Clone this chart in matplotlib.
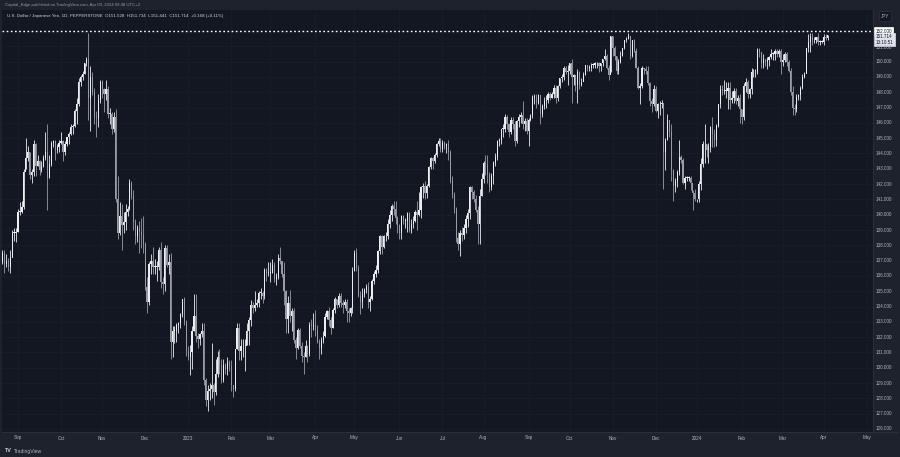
import matplotlib.pyplot as plt
import numpy as np
import pandas as pd

# USD/JPY daily bars, 19 Aug 2022 -> 03 Apr 2024 (one value per weekday)
first_open = 135.9
closes = [
    # Aug 2022
    136.9, 137.5, 136.8, 137.0, 136.6, 137.2, 138.8, 138.8, 138.9,
    # Sep
    140.2, 140.2, 140.5, 142.8, 143.7, 144.1, 142.6, 142.8, 144.6, 143.2, 143.5,
    142.9, 143.2, 143.7, 144.1, 142.4, 143.3, 144.7, 144.8, 144.2, 144.4, 144.7,
    # Oct
    144.8, 144.1, 144.6, 145.1, 145.3, 145.7, 145.8, 146.8, 147.2, 148.7, 149.0,
    149.2, 149.9, 150.2, 147.6, 149.0, 148.0, 146.4, 146.3, 147.5, 148.7,
    # Nov
    148.2, 147.9, 148.2, 146.6, 146.6, 145.6, 146.4, 141.0, 138.8, 139.9, 139.3,
    139.5, 140.2, 140.4, 142.1, 141.2, 139.5, 138.6, 139.1, 138.9, 138.7, 138.1,
    # Dec
    135.3, 134.3, 136.8, 137.0, 136.6, 136.6, 136.6, 137.7, 135.6, 135.5, 137.8,
    136.7, 136.9, 131.7, 132.4, 132.4, 132.8, 132.9, 133.5, 134.5, 133.0, 131.1,
    # Jan 2023
    130.7, 131.0, 132.4, 133.4, 132.1, 131.9, 132.2, 132.4, 129.2, 127.9, 128.5,
    128.6, 128.9, 128.4, 129.6, 130.7, 130.2, 129.2, 130.2, 129.9, 130.4, 130.1,
    # Feb
    128.9, 128.6, 131.2, 132.6, 131.1, 131.4, 131.4, 131.4, 132.4, 133.1, 134.1,
    133.9, 134.1, 134.2, 134.9, 134.9, 134.7, 136.4, 136.2, 136.2,
    # Mar
    136.2, 136.7, 135.8, 135.9, 137.2, 137.0, 136.1, 135.0, 133.2, 134.2, 133.4,
    133.7, 131.8, 131.3, 132.5, 131.4, 130.8, 130.7, 131.4, 130.9, 132.8, 132.7, 132.8,
    # Apr
    132.5, 131.7, 131.3, 131.8, 132.1, 133.3, 133.7, 133.1, 132.6, 133.8, 134.5,
    134.1, 134.7, 134.2, 134.1, 134.3, 133.7, 133.6, 133.9, 136.3,
    # May
    137.5, 136.5, 134.7, 134.3, 134.8, 135.1, 135.3, 134.3, 134.5, 135.7, 136.1,
    136.4, 137.6, 138.6, 137.9, 138.6, 138.6, 139.4, 140.0, 140.6, 140.4, 139.8, 139.3,
    # Jun
    138.8, 139.9, 139.6, 139.6, 140.1, 139.0, 139.4, 139.6, 140.2, 140.0, 140.3,
    141.8, 141.9, 141.4, 141.9, 143.1, 143.7, 143.5, 143.9, 144.6, 144.8, 144.3,
    # Jul
    144.7, 144.5, 144.6, 144.1, 142.2, 141.3, 140.4, 138.5, 138.1, 138.8, 138.7,
    139.1, 139.7, 140.1, 141.8, 141.5, 141.0, 140.3, 139.4, 141.2, 142.3,
    # Aug
    143.4, 143.3, 142.6, 141.8, 142.5, 143.4, 143.8, 144.8, 144.9, 145.6, 145.6,
    146.4, 145.9, 145.4, 146.2, 145.9, 144.8, 146.1, 146.4, 146.5, 145.9, 146.1, 145.5,
    # Sep
    146.2, 146.5, 147.7, 147.7, 147.3, 147.8, 146.6, 147.1, 147.4, 147.5, 147.9,
    147.6, 147.9, 148.3, 147.6, 148.4, 148.9, 149.0, 149.6, 149.3, 149.4,
    # Oct
    149.9, 149.0, 149.1, 148.5, 149.3, 148.5, 148.7, 149.1, 149.8, 149.6, 149.6,
    149.8, 149.8, 149.9, 149.9, 149.7, 149.9, 150.2, 150.4, 149.6, 149.1, 151.7,
    # Nov
    150.9, 150.4, 149.4, 150.0, 150.4, 150.9, 151.4, 151.5, 151.7, 150.4, 151.4,
    150.7, 149.6, 148.3, 148.4, 149.6, 149.5, 149.4, 148.6, 147.4, 147.2, 148.2,
    # Dec
    146.8, 147.2, 147.2, 147.3, 144.1, 144.9, 146.2, 145.4, 142.9, 141.9, 142.2,
    142.8, 143.8, 143.6, 142.1, 142.4, 142.4, 142.4, 142.1, 141.4, 141.0,
    # Jan 2024
    141.0, 142.0, 143.3, 144.6, 144.6, 144.2, 144.4, 145.7, 145.3, 144.9, 145.8,
    147.2, 148.2, 148.1, 148.1, 148.1, 148.3, 147.5, 147.6, 148.1, 147.4, 147.6, 146.9,
    # Feb
    146.4, 148.4, 148.7, 147.9, 148.2, 149.3, 149.3, 149.3, 150.8, 150.6, 149.9,
    150.2, 150.0, 150.1, 150.3, 150.5, 150.5, 150.7, 150.5, 150.7, 150.0,
    # Mar
    150.1, 150.5, 150.0, 149.4, 148.0, 147.0, 146.9, 147.7, 147.8, 148.3, 149.0,
    149.2, 150.9, 151.3, 151.6, 151.4, 151.4, 151.6, 151.3, 151.3, 151.3,
    # Apr
    151.6, 151.528, 151.714,
]
highs = [
    137.0, 137.7, 137.7, 137.4, 137.2, 137.7, 139.0, 139.1, 139.1,
    140.4, 140.8, 140.9, 143.0, 145.0, 144.5, 144.1, 143.0, 144.9, 144.7, 143.9,
    143.6, 143.5, 143.9, 145.4, 145.9, 143.9, 144.8, 144.9, 144.9, 144.6, 144.9,
    145.4, 144.9, 144.8, 145.1, 145.4, 145.9, 145.9, 146.9, 147.6, 148.9, 149.1,
    149.4, 149.9, 150.3, 151.9, 149.7, 149.3, 148.3, 146.8, 147.9, 148.8,
    148.8, 148.3, 148.8, 148.4, 147.0, 146.7, 146.7, 146.9, 142.5, 140.8, 140.7,
    140.2, 140.7, 140.6, 142.3, 142.2, 141.6, 139.7, 139.3, 139.6, 139.8, 139.9,
    138.2, 135.9, 136.9, 137.4, 137.9, 137.1, 137.0, 137.9, 138.2, 135.9, 138.0,
    138.0, 137.4, 137.5, 132.7, 132.7, 132.9, 133.0, 133.6, 134.5, 134.6, 133.1,
    131.4, 131.5, 132.7, 134.8, 134.8, 132.3, 132.3, 132.9, 132.9, 129.3, 128.9,
    129.0, 131.6, 129.0, 130.6, 131.1, 131.2, 130.6, 130.6, 130.3, 130.7, 130.5,
    130.5, 128.9, 131.2, 132.9, 132.9, 131.9, 131.9, 131.9, 132.9, 133.3, 134.4,
    134.3, 135.0, 134.5, 135.0, 135.2, 135.0, 136.5, 136.5, 136.9,
    136.9, 137.1, 136.9, 136.2, 137.4, 137.9, 136.9, 136.9, 135.1, 134.7, 135.1,
    133.9, 133.9, 132.0, 132.6, 132.6, 131.7, 131.0, 131.8, 131.5, 133.0, 133.2, 133.6,
    133.8, 132.8, 131.9, 132.0, 132.4, 133.6, 133.8, 134.0, 133.3, 133.9, 134.6,
    134.5, 134.9, 134.9, 134.4, 134.5, 134.5, 133.9, 134.0, 136.6,
    137.7, 137.8, 136.7, 135.0, 135.2, 135.2, 135.5, 135.6, 134.7, 135.8, 136.3,
    136.7, 137.7, 138.7, 138.7, 138.7, 138.9, 139.7, 140.3, 140.7, 140.9, 140.9, 139.9,
    139.4, 140.0, 140.0, 139.8, 140.2, 140.2, 139.7, 139.9, 140.3, 140.9, 141.5,
    141.9, 142.1, 142.2, 142.0, 143.2, 143.8, 143.8, 144.0, 144.7, 145.0, 145.0,
    144.9, 144.8, 144.7, 144.9, 144.2, 142.5, 141.5, 140.5, 138.9, 139.0, 139.2,
    139.4, 140.0, 140.4, 141.9, 141.9, 141.6, 141.3, 140.6, 141.7, 142.7,
    143.5, 143.9, 143.9, 142.8, 142.7, 143.5, 144.0, 144.9, 145.0, 145.6, 145.9,
    146.6, 146.5, 146.0, 146.4, 146.4, 146.1, 146.2, 146.6, 146.7, 147.4, 146.3, 146.3,
    146.3, 146.6, 147.8, 147.9, 147.9, 147.9, 147.6, 147.2, 147.7, 147.8, 148.0,
    148.0, 148.0, 148.5, 148.5, 148.5, 148.9, 149.2, 149.7, 149.7, 149.8,
    149.9, 150.2, 149.2, 149.1, 149.5, 149.4, 148.9, 149.3, 149.8, 149.8, 149.8,
    149.9, 149.9, 150.0, 150.0, 150.0, 149.9, 150.2, 150.8, 150.5, 149.8, 151.7,
    151.7, 151.0, 150.4, 150.2, 150.7, 150.9, 151.4, 151.6, 151.9, 151.7, 151.4,
    151.5, 150.9, 149.7, 148.6, 149.7, 149.6, 149.7, 149.7, 148.7, 147.6, 148.5,
    148.4, 147.3, 147.4, 147.5, 147.3, 145.0, 146.6, 146.2, 145.9, 143.0, 142.4,
    142.9, 144.9, 143.9, 143.7, 142.5, 142.5, 142.5, 142.5, 141.6, 141.7,
    141.0, 142.2, 143.7, 144.8, 145.9, 144.6, 144.7, 145.8, 146.4, 145.6, 145.9,
    147.2, 148.5, 148.5, 148.8, 148.7, 148.7, 148.7, 148.1, 148.3, 148.3, 147.8, 147.9,
    146.9, 148.6, 148.9, 148.8, 148.3, 149.6, 149.5, 149.5, 150.9, 150.9, 150.6,
    150.5, 150.2, 150.3, 150.4, 150.8, 150.6, 150.8, 150.8, 150.8, 150.8,
    150.5, 150.6, 150.6, 150.1, 149.6, 148.4, 147.2, 147.9, 147.9, 148.4, 149.2,
    149.3, 150.9, 151.8, 151.9, 151.9, 151.6, 151.6, 151.9, 151.4, 151.4,
    151.8, 151.8, 151.734,
]
lows = [
    135.8, 136.8, 136.2, 136.6, 136.3, 136.2, 137.7, 138.3, 138.2,
    138.9, 140.0, 140.1, 140.4, 143.0, 143.5, 142.3, 142.1, 142.5, 142.5, 143.2,
    142.6, 142.8, 143.1, 143.6, 140.3, 142.4, 143.2, 144.4, 143.6, 144.0, 144.1,
    144.6, 143.5, 143.9, 144.5, 144.6, 145.2, 145.3, 145.7, 145.9, 147.1, 148.4,
    148.8, 149.2, 149.7, 146.2, 145.5, 147.8, 145.9, 145.1, 145.7, 147.3,
    147.6, 146.7, 147.5, 146.3, 145.9, 145.3, 145.4, 140.8, 138.4, 138.7, 137.7,
    138.8, 139.0, 139.9, 140.3, 141.0, 139.0, 138.1, 138.2, 137.5, 137.8, 137.5,
    135.1, 133.6, 134.1, 136.1, 136.1, 136.1, 135.7, 136.4, 135.2, 134.8, 135.0,
    136.6, 136.1, 130.6, 130.7, 131.6, 131.7, 132.3, 132.6, 133.3, 132.8, 130.8,
    130.5, 129.5, 129.9, 132.4, 131.7, 131.3, 131.5, 132.0, 128.9, 127.5, 127.2,
    127.9, 128.0, 127.6, 128.2, 129.4, 129.6, 129.0, 129.1, 129.6, 129.5, 129.8,
    128.5, 128.1, 128.5, 131.2, 130.5, 130.5, 130.7, 129.8, 131.5, 131.5, 132.7,
    133.6, 133.7, 134.0, 134.0, 134.5, 134.2, 134.5, 135.7, 136.0,
    135.6, 136.2, 135.6, 135.4, 135.8, 136.8, 135.9, 134.1, 132.3, 132.3, 133.0,
    132.4, 131.6, 130.6, 131.2, 131.3, 130.4, 129.6, 130.7, 130.4, 130.8, 132.0, 132.5,
    132.1, 131.6, 130.6, 130.9, 131.6, 132.0, 133.2, 132.7, 132.2, 132.6, 133.6,
    133.9, 134.0, 134.0, 133.6, 133.9, 133.0, 133.0, 133.4, 133.6,
    136.3, 136.3, 134.6, 133.5, 133.9, 134.6, 134.9, 133.9, 133.7, 134.4, 135.5,
    135.9, 136.2, 137.4, 137.4, 137.8, 138.3, 138.4, 139.1, 139.6, 140.0, 139.4, 138.8,
    138.4, 138.4, 139.4, 139.1, 138.9, 138.9, 138.8, 139.1, 139.5, 139.0, 139.9,
    139.8, 141.1, 141.0, 141.1, 141.8, 143.0, 143.0, 143.4, 143.8, 144.5, 144.1,
    144.1, 144.3, 144.0, 143.6, 142.1, 141.1, 140.1, 138.2, 137.7, 137.3, 138.3,
    138.4, 138.8, 139.2, 139.7, 141.0, 140.8, 140.2, 138.1, 138.1, 141.2,
    142.1, 142.6, 142.1, 141.5, 141.6, 142.0, 143.2, 143.6, 144.5, 144.6, 145.1,
    145.4, 145.6, 145.1, 145.3, 145.6, 144.5, 144.7, 145.7, 146.0, 145.6, 145.5, 145.3,
    144.5, 146.1, 146.3, 147.2, 147.0, 147.2, 145.9, 146.4, 146.9, 147.0, 147.3,
    147.5, 147.6, 147.6, 147.3, 147.4, 148.3, 148.7, 148.8, 149.2, 148.5,
    149.2, 147.3, 148.5, 148.1, 147.3, 148.2, 148.4, 148.8, 149.1, 149.4, 149.4,
    149.4, 149.6, 149.6, 149.6, 149.3, 149.4, 149.7, 150.1, 149.5, 148.8, 149.3,
    150.4, 150.1, 149.2, 149.2, 149.9, 150.4, 150.8, 151.3, 151.5, 150.2, 150.3,
    150.6, 149.6, 148.2, 147.2, 148.3, 149.2, 149.2, 148.5, 147.1, 146.7, 147.1,
    146.7, 146.3, 146.5, 147.0, 141.7, 142.9, 144.9, 145.1, 142.2, 140.9, 141.5,
    141.8, 142.6, 143.4, 142.0, 141.7, 142.2, 142.2, 141.6, 140.3, 140.9,
    140.8, 140.8, 141.6, 143.1, 143.4, 143.8, 143.4, 144.1, 144.4, 144.4, 144.5,
    145.7, 147.0, 147.8, 147.9, 147.6, 146.9, 146.9, 147.3, 147.3, 147.2, 147.1, 146.0,
    145.9, 146.2, 148.0, 147.6, 147.6, 147.9, 149.0, 149.0, 149.2, 150.3, 149.6,
    149.6, 149.7, 149.5, 149.7, 150.2, 150.1, 150.1, 150.3, 150.3, 149.2,
    149.7, 150.0, 149.7, 149.3, 147.8, 146.5, 146.5, 146.7, 147.5, 147.5, 148.2,
    148.9, 149.3, 150.6, 150.6, 151.1, 151.2, 151.2, 151.1, 151.1, 151.2,
    151.1, 151.4, 151.441,
]
price_levels = list(range(126, 152))
hline_level = 152.0
last_price = "151.714"
countdown = "13:10:51"
header = "Capital_Edge published on TradingView.com, Apr 03, 2024 09:48 UTC+2"
title = ("U.S. Dollar / Japanese Yen, 1D, PEPPERSTONE  O151.528  H151.734  "
         "L151.441  C151.714  +0.168 (+0.11%)")

FRAME = '#1e222d'
PANE = '#131722'
TXT = '#b2b5be'
LINE = '#2a2e39'

c = np.array(closes)
h = np.array(highs)
l = np.array(lows)
o = np.concatenate([[first_open], c[:-1]])
x = np.arange(len(c))

# calendar used only for the time-axis labels (bar index -> month start)
cal = pd.bdate_range('2022-08-19', '2024-05-31')
month_idx = [i for i in range(1, len(cal)) if cal[i].month != cal[i - 1].month]
month_lab = [str(cal[i].year) if cal[i].month == 1 else cal[i].strftime('%b') for i in month_idx]

fig = plt.figure(figsize=(9, 4.57), dpi=100, facecolor=FRAME)
W, H = 900, 457
# pane: x 2..873, y 10..432 (pixels)
ax = fig.add_axes([2 / W, (H - 432) / H, 871 / W, 422 / H])
ax.set_facecolor(PANE)
px = 1.956
x0 = 9 - 16 / px
ax.set_xlim(x0, x0 + 871 / px)
ax.set_ylim(126 - 3 / 15.3, 152 + 21 / 15.3)
for s in ax.spines.values():
    s.set_visible(False)
ax.set_xticks([])
ax.set_yticks([])

# faint grid
for i in month_idx:
    ax.axvline(i, color='#181c27', lw=0.8, zorder=0)
for p in price_levels:
    ax.axhline(p, color='#181c27', lw=0.8, zorder=0)

up = c >= o
col = np.where(up, '#eceef3', '#9a9da6')
ax.vlines(x, l, h, colors=col, lw=0.6, zorder=2)
body_lo = np.minimum(o, c)
body_h = np.maximum(np.abs(c - o), 0.04)
ax.bar(x, body_h, bottom=body_lo, width=0.62, color=col, lw=0, zorder=3)

ax.axhline(hline_level, color='#ffffff', lw=1.0, ls=(0, (1.2, 1.8)), zorder=4)

fs = 3.3
fam = 'Liberation Sans'
# header and legend
fig.text(5 / W, 1 - 5 / H, header, color='#9598a1', fontsize=3.1, family=fam, va='center')
fig.text(7 / W, 1 - 16.5 / H, title, color='#d1d4dc', fontsize=3.15, family=fam, va='center')

# price axis
fig.add_artist(plt.Line2D([873 / W, 873 / W], [(H - 432) / H, 1 - 10 / H],
                          color=LINE, lw=0.8))
fig.add_artist(plt.Line2D([2 / W, 897 / W], [(H - 432) / H, (H - 432) / H],
                          color=LINE, lw=0.8))
yt = ax.get_yaxis_transform()
for p in price_levels:
    if p == 151:
        continue
    ax.text(1.003, p, f"{p:.3f}", transform=yt, color=TXT, fontsize=fs,
            family=fam, va='center', ha='left', clip_on=False)
ax.text(1.003, hline_level, "152.000", transform=yt, color='#131722', fontsize=fs,
        family=fam, va='center', ha='left', clip_on=False,
        bbox=dict(boxstyle='square,pad=0.25', fc='#ffffff', ec='#ffffff', lw=0.5))
ax.text(1.003, 151.45, last_price + "\n" + countdown, transform=yt, color='#131722',
        fontsize=fs, family=fam, va='center', ha='left', clip_on=False, linespacing=1.1,
        bbox=dict(boxstyle='square,pad=0.25', fc='#e0e3eb', ec='#e0e3eb', lw=0.5))
ax.text(1.003, 151.0 - 0.1, "151.000", transform=yt, color=TXT, fontsize=fs,
        family=fam, va='center', ha='left', clip_on=False)
fig.text(885 / W, 1 - 16 / H, "JPY", color=TXT, fontsize=fs, family=fam,
         ha='center', va='center',
         bbox=dict(boxstyle='square,pad=0.5', fc=PANE, ec=LINE, lw=0.6))

# time axis
xt = ax.get_xaxis_transform()
for i, lab in zip(month_idx, month_lab):
    ax.text(i, -6 / 422, lab, transform=xt, color=TXT, fontsize=fs, family=fam,
            ha='center', va='center', clip_on=False)

# footer logo
fig.text(5 / W, 1 - 451 / H, "TV", color='#d1d4dc', fontsize=fs + 0.6, family=fam,
         weight='bold', va='center')
fig.text(14 / W, 1 - 451 / H, "TradingView", color='#b2b5be', fontsize=fs + 0.3,
         family=fam, va='center')

fig.savefig('out.png', dpi=100, facecolor=FRAME)
